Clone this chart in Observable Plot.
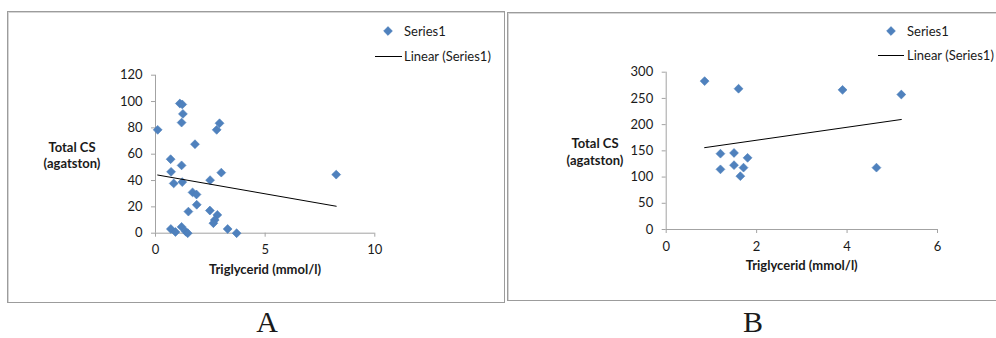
<!DOCTYPE html>
<html>
<head>
<meta charset="utf-8">
<script src="https://cdn.jsdelivr.net/npm/d3@7"></script>
<script src="https://cdn.jsdelivr.net/npm/@observablehq/plot@0.6"></script>
<style>
  body { margin: 0; background: #fff; }
  #page { position: relative; width: 996px; height: 338px; overflow: hidden; background: #fff;
          font-family: Lato, "Open Sans", sans-serif; color: #1a1a1a; }
  .box { position: absolute; box-sizing: border-box; border: 1px solid #9c9c9c; box-shadow: inset 1px 1px 0 #d6d6d6; }
  .plot { position: absolute; }
  .title { position: absolute; font-weight: bold; font-size: 13px; line-height: 16.5px; text-align: center;
           white-space: nowrap; transform: translate(-50%, -50%); }
  .leg { position: absolute; font-size: 13px; white-space: nowrap; transform: translateY(-50%); line-height: 15px; }
  .legline { position: absolute; height: 0; border-top: 1px solid #000; }
  .legsym { position: absolute; transform: translate(-50%, -50%); line-height: 0; }
  .legsym svg { display: block; }
  .cap { position: absolute; font-family: "Liberation Serif", "DejaVu Serif", serif; font-size: 30px; line-height: 24px;
         transform: translateX(-50%); }
</style>
</head>
<body>
<div id="page"></div>
<script>
// Panel A: triglyceride vs. total calcium score
const triglyceridA = [0.10, 1.11, 1.22, 1.25, 1.19, 2.92, 2.79, 1.80, 0.69, 1.19, 0.71, 3.00, 0.83, 1.22, 2.49, 8.24,
                      1.69, 1.87, 1.88, 1.50, 2.48, 2.82, 2.70, 2.64, 0.70, 0.91, 1.19, 1.38, 1.47, 3.29, 3.70];
const totalCsA     = [78.5, 98.5, 97.8, 90.6, 84.0, 83.5, 78.5, 67.6, 56.2, 51.5, 46.6, 46.0, 37.8, 38.8, 40.3, 44.5,
                      31.0, 29.4, 21.6, 16.4, 17.2, 13.9, 10.0, 7.6, 3.2, 0.9, 4.8, 1.2, 0.0, 3.2, 0.0];
const xTicksA = [0, 5, 10];
const yTicksA = [0, 20, 40, 60, 80, 100, 120];

// Panel B
const triglyceridB = [0.85, 1.60, 3.90, 5.20, 1.20, 1.50, 1.80, 1.50, 1.71, 1.20, 1.64, 4.65];
const totalCsB     = [283.0, 268.5, 266.3, 257.4, 144.6, 146.0, 136.7, 122.7, 118.0, 114.7, 101.7, 118.0];
const xTicksB = [0, 2, 4, 6];
const yTicksB = [0, 50, 100, 150, 200, 250, 300];

// Shared text
const xTitle = "Triglycerid (mmol/l)";
const yTitleLines = ["Total CS", "(agatston)"];
const legendLabels = ["Series1", "Linear (Series1)"];
const panelLetters = ["A", "B"];

const AXIS = "#a3a3a3";
const MARKER_FILL = "#4f81bd";
const MARKER_STROKE = "#4a7ebb";
const TEXT = "#1a1a1a";

// Layout of each panel on the page (pixels)
const panels = [
  { xs: triglyceridA, ys: totalCsA, xTicks: xTicksA, yTicks: yTicksA, letter: panelLetters[0],
    box: {left: 7, top: 11, width: 498, height: 292},
    svg: {left: 8, top: 12, width: 494, height: 288, mL: 147, mR: 127.7, mT: 62.7, mB: 67.3},
    yTitle: {x: 72, y: 154.5}, xTitleAt: {x: 265, y: 269},
    legend: {symX: 388, symY: 31, textX: 404, lineX0: 375, lineX1: 402, lineY: 55.5},
    capX: 267 },
  { xs: triglyceridB, ys: totalCsB, xTicks: xTicksB, yTicks: yTicksB, letter: panelLetters[1],
    box: {left: 507, top: 12, width: 500, height: 289},
    svg: {left: 508, top: 13, width: 488, height: 286, mL: 157.7, mR: 59, mT: 58.7, mB: 70},
    yTitle: {x: 595, y: 151}, xTitleAt: {x: 801.7, y: 265},
    legend: {symX: 891, symY: 31, textX: 907, lineX0: 878, lineX1: 904, lineY: 55},
    capX: 753 }
];

const page = document.getElementById("page");

function el(tag, cls, style, text) {
  const e = document.createElement(tag);
  if (cls) e.className = cls;
  Object.assign(e.style, style || {});
  if (text !== undefined) e.textContent = text;
  page.appendChild(e);
  return e;
}

function scatter(p) {
  const data = p.xs.map((x, i) => ({x, y: p.ys[i]}));
  const s = p.svg;
  return Plot.plot({
    width: s.width, height: s.height,
    marginLeft: s.mL, marginRight: s.mR, marginTop: s.mT, marginBottom: s.mB,
    style: {fontFamily: "Lato, 'Open Sans', sans-serif", fontSize: "13px", color: TEXT, background: "transparent", overflow: "visible"},
    x: {domain: [p.xTicks[0], p.xTicks[p.xTicks.length - 1]]},
    y: {domain: [p.yTicks[0], p.yTicks[p.yTicks.length - 1]]},
    marks: [
      Plot.ruleX([p.xTicks[0]], {stroke: AXIS}),
      Plot.ruleY([p.yTicks[0]], {stroke: AXIS}),
      Plot.axisX(p.xTicks, {tickSize: 4, tickPadding: 8, stroke: AXIS, fill: TEXT, label: null}),
      Plot.axisY(p.yTicks, {tickSize: 4, tickPadding: 9, stroke: AXIS, fill: TEXT, label: null}),
      Plot.dot(data, {x: "x", y: "y", symbol: "diamond2", r: 4, fill: MARKER_FILL, stroke: MARKER_STROKE, strokeWidth: 0.6}),
      Plot.linearRegressionY(data, {x: "x", y: "y", ci: 0, stroke: "#000", strokeWidth: 1})
    ]
  });
}

for (const p of panels) {
  el("div", "box", {left: p.box.left + "px", top: p.box.top + "px", width: p.box.width + "px", height: p.box.height + "px"});

  const chart = scatter(p);
  const holder = el("div", "plot", {left: p.svg.left + "px", top: p.svg.top + "px"});
  holder.appendChild(chart);

  const yt = el("div", "title", {left: p.yTitle.x + "px", top: p.yTitle.y + "px"});
  yt.innerHTML = yTitleLines.join("<br>");
  el("div", "title", {left: p.xTitleAt.x + "px", top: p.xTitleAt.y + "px"}, xTitle);

  // legend
  const L = p.legend;
  const sym = el("div", "legsym", {left: L.symX + "px", top: L.symY + "px", width: "10px", height: "10px"});
  sym.innerHTML = `<svg width="10" height="10" viewBox="-5 -5 10 10"><path d="M0,-4.4L4.4,0L0,4.4L-4.4,0Z" fill="${MARKER_FILL}" stroke="${MARKER_STROKE}" stroke-width="0.6"/></svg>`;
  el("div", "leg", {left: L.textX + "px", top: L.symY + "px"}, legendLabels[0]);
  el("div", "legline", {left: L.lineX0 + "px", top: L.lineY + "px", width: (L.lineX1 - L.lineX0) + "px"});
  el("div", "leg", {left: L.textX + "px", top: L.lineY + "px"}, legendLabels[1]);

  el("div", "cap", {left: p.capX + "px", top: "310px"}, p.letter);
}
</script>
</body>
</html>
